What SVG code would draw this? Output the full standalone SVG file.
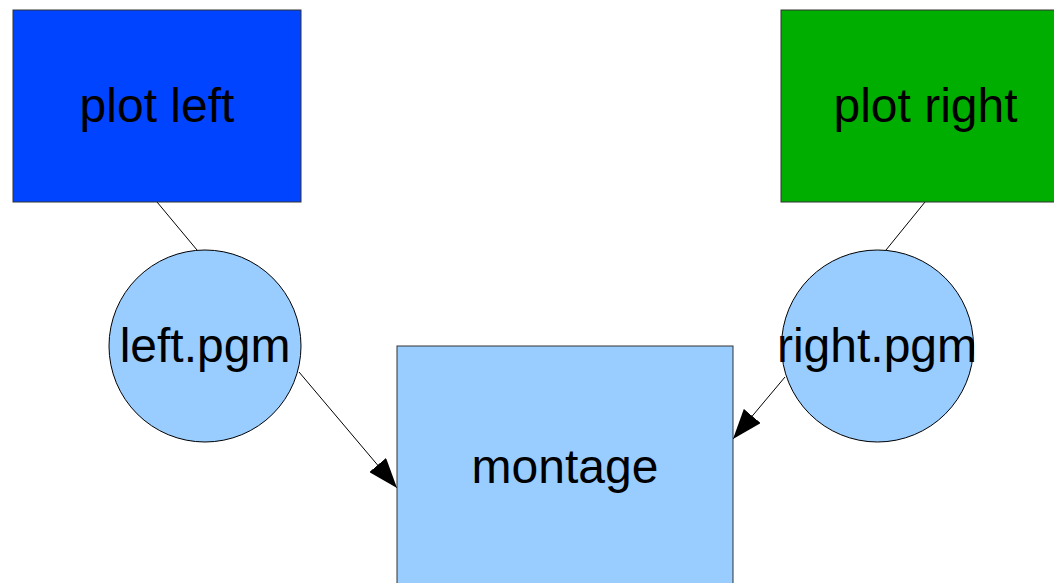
<svg xmlns="http://www.w3.org/2000/svg" width="1054" height="583" viewBox="0 0 1054 583">
<style>
.box{stroke:#333;stroke-width:1}
.circ{fill:#99ccff;stroke:#000;stroke-width:1}
.lbl{font-family:"Liberation Sans",Arial,sans-serif;font-size:48px;fill:#000;text-anchor:middle}
.edge{stroke:#000;stroke-width:1;fill:none}
</style>
<defs>
<marker id="arr" markerUnits="userSpaceOnUse" markerWidth="30" markerHeight="22" refX="30" refY="11" orient="auto" viewBox="0 0 30 22">
<path d="M0,0 L30,11 L0,22 z" fill="#000"/>
</marker>
</defs>
<rect width="1054" height="583" fill="#fff"/>
<g id="connectors">
<line class="edge" x1="157" y1="202" x2="197" y2="250"/>
<line class="edge" x1="925" y1="202" x2="886" y2="250"/>
<line class="edge" x1="299" y1="372" x2="397" y2="488" marker-end="url(#arr)"/>
<line class="edge" x1="785" y1="377" x2="733" y2="439" marker-end="url(#arr)"/>
</g>
<g id="plot-left">
<rect class="box" x="13" y="10" width="288" height="192" fill="#0044ff"/>
<text class="lbl" x="157" y="122">plot left</text>
</g>
<g id="plot-right">
<rect class="box" x="781" y="10" width="289" height="192" fill="#00ae00"/>
<text class="lbl" x="925.5" y="122">plot right</text>
</g>
<g id="left-pgm">
<circle class="circ" cx="205" cy="346" r="96"/>
<text class="lbl" x="205" y="362">left.pgm</text>
</g>
<g id="right-pgm">
<circle class="circ" cx="877.5" cy="346" r="96"/>
<text class="lbl" x="877" y="362">right.pgm</text>
</g>
<g id="montage">
<rect class="box" x="397" y="346" width="336" height="260" fill="#99ccff"/>
<text class="lbl" x="565" y="483">montage</text>
</g>
</svg>
